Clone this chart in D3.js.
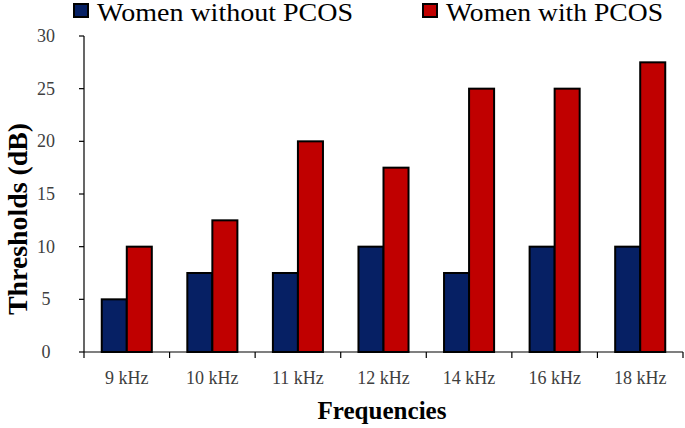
<!DOCTYPE html>
<html>
<head>
<meta charset="utf-8">
<script src="https://cdn.jsdelivr.net/npm/d3@7"></script>
<style>
  body { margin: 0; background: #fff; }
</style>
</head>
<body>
<div id="chart"></div>
<script>
const categories = ["9 kHz", "10 kHz", "11 kHz", "12 kHz", "14 kHz", "16 kHz", "18 kHz"];
const seriesNames = ["Women without PCOS", "Women with PCOS"];
const withoutPcos = [5, 7.5, 7.5, 10, 7.5, 10, 10];
const withPcos = [10, 12.5, 20, 17.5, 25, 25, 27.5];
const yTicks = [0, 5, 10, 15, 20, 25, 30];
const colors = ["#062064", "#c00000"];
const serif = "'Liberation Serif', monospace";

const width = 685, height = 428;
const margin = {top: 36, right: 2, bottom: 76, left: 84};

const svg = d3.select("#chart")
  .append("svg")
  .attr("width", width)
  .attr("height", height)
  .attr("font-family", "Liberation Serif");

const x = d3.scaleBand()
  .domain(categories)
  .range([margin.left, width - margin.right])
  .paddingInner(0.415)
  .paddingOuter(0.2075);

const xBoundaries = d3.scaleLinear() // band edges, for the tick marks between groups
  .domain([0, categories.length])
  .range([margin.left, width - margin.right]);

const xInner = d3.scaleBand()
  .domain(seriesNames)
  .range([0, x.bandwidth()]);

const y = d3.scaleLinear()
  .domain([0, 30])
  .range([height - margin.bottom, margin.top]);

const rows = categories.map((c, i) => ({cat: c, values: [withoutPcos[i], withPcos[i]]}));

// legend first, straight on the svg
const legendX = [74, 423];
const legendTextLen = [256, 217];
svg.selectAll("rect.key")
  .data(seriesNames)
  .enter()
  .append("rect")
  .attr("class", "key")
  .attr("x", (d, i) => legendX[i]).attr("y", 4)
  .attr("width", 14).attr("height", 13)
  .attr("fill", (d, i) => colors[i])
  .attr("stroke", "#000")
  .attr("stroke-width", 2);
svg.selectAll("text.key")
  .data(seriesNames)
  .enter()
  .append("text")
  .attr("class", "key")
  .attr("x", (d, i) => legendX[i] + 23)
  .attr("y", 21)
  .attr("textLength", (d, i) => legendTextLen[i])
  .attr("lengthAdjust", "spacingAndGlyphs")
  .style("font-family", serif)
  .style("font-size", "25px")
  .style("fill", "#000")
  .text(d => d);

// y tick labels
svg.selectAll("text.ytick")
  .data(yTicks)
  .enter()
  .append("text")
  .attr("class", "ytick")
  .attr("x", 46)
  .attr("y", d => y(d) + 6)
  .attr("text-anchor", "middle")
  .style("font-family", serif)
  .style("font-size", "18px")
  .style("fill", "#404040")
  .text(d => d);

// x tick labels
svg.selectAll("text.xtick")
  .data(categories)
  .enter()
  .append("text")
  .attr("class", "xtick")
  .attr("x", d => x(d) + x.bandwidth() / 2)
  .attr("y", y(0) + 32)
  .attr("text-anchor", "middle")
  .style("font-family", serif)
  .style("font-size", "18px")
  .style("fill", "#404040")
  .text(d => d);

// axis titles
svg.append("text")
  .attr("x", 382)
  .attr("y", 419)
  .attr("text-anchor", "middle")
  .attr("textLength", 129)
  .attr("lengthAdjust", "spacingAndGlyphs")
  .style("font-family", serif)
  .style("font-size", "25px")
  .style("font-weight", "bold")
  .text("Frequencies");

svg.append("text")
  .attr("transform", "translate(27,219) rotate(-90)")
  .attr("text-anchor", "middle")
  .attr("textLength", 192)
  .attr("lengthAdjust", "spacingAndGlyphs")
  .style("font-family", serif)
  .style("font-size", "27px")
  .style("font-weight", "bold")
  .text("Thresholds (dB)");

// bars
const groups = svg.selectAll("g.group")
  .data(rows)
  .enter()
  .append("g")
  .attr("class", "group")
  .attr("transform", d => `translate(${x(d.cat)},0)`);

groups.selectAll("rect")
  .data(d => d.values.map((v, i) => ({name: seriesNames[i], value: v, idx: i})))
  .enter()
  .append("rect")
  .attr("x", d => xInner(d.name))
  .attr("y", d => y(d.value))
  .attr("width", xInner.bandwidth())
  .attr("height", d => y(0) - y(d.value))
  .attr("fill", d => colors[d.idx])
  .attr("stroke", "#000")
  .attr("stroke-width", 2);

// y axis line and ticks
svg.append("line")
  .attr("x1", margin.left).attr("x2", margin.left)
  .attr("y1", y(30)).attr("y2", y(0))
  .attr("stroke", "#000").attr("stroke-width", 1.2);
svg.selectAll("line.ytick")
  .data(yTicks)
  .enter()
  .append("line")
  .attr("class", "ytick")
  .attr("x1", margin.left - 5).attr("x2", margin.left)
  .attr("y1", d => y(d)).attr("y2", d => y(d))
  .attr("stroke", "#000").attr("stroke-width", 1.2);

// x axis line and ticks
svg.append("line")
  .attr("x1", margin.left).attr("x2", width - margin.right)
  .attr("y1", y(0)).attr("y2", y(0))
  .attr("stroke", "#000").attr("stroke-width", 1.2);
svg.selectAll("line.xtick")
  .data(d3.range(categories.length + 1))
  .enter()
  .append("line")
  .attr("class", "xtick")
  .attr("x1", d => xBoundaries(d)).attr("x2", d => xBoundaries(d))
  .attr("y1", y(0)).attr("y2", y(0) + 6)
  .attr("stroke", "#000").attr("stroke-width", 1.2);
</script>
</body>
</html>
